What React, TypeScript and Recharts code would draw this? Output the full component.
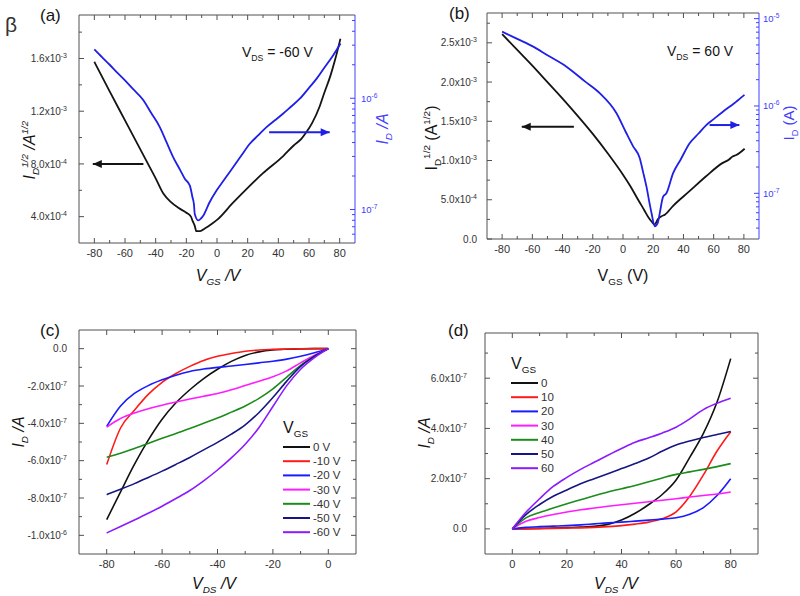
import React from 'react';
import { LineChart, Line, XAxis, YAxis } from 'recharts';

const FONT = '"Liberation Sans", Arial, Helvetica, sans-serif';
const INK = '#141414';
const FRAME = '#505050';
const LABEL = '#333333';
const BLUE = '#1f1fe6';
const BLUE_AXIS = '#4040ff';

// ---------- (a) transfer, VDS = -60 V ----------
const aVgsSqrt = [-80, -70, -60, -50, -45, -40, -35, -30, -25, -20, -17, -16, -14.5, -13.5, -11, -8, -4, 0, 10, 21, 30, 43, 50, 55, 58, 62, 67, 70, 74, 77, 80.5];
// sqrt(ID) in units of 1e-3 A^1/2
const aSqrtIdE3 = [1.575, 1.35, 1.13, 0.91, 0.8, 0.69, 0.575, 0.51, 0.465, 0.43, 0.4, 0.37, 0.33, 0.29, 0.29, 0.31, 0.34, 0.375, 0.5, 0.63, 0.73, 0.858, 0.94, 0.99, 1.036, 1.11, 1.238, 1.34, 1.47, 1.59, 1.75];
const aVgsLog = [-80, -75, -70, -65.6, -60, -55, -48, -43, -37.3, -33, -28.6, -24, -21, -17.7, -16, -15, -14.5, -12.3, -10.5, -9, -5, -0.3, 5, 10.5, 16, 21.4, 27, 32.3, 38, 43.2, 48, 54, 60, 65, 70, 75.8, 80.6];
const aIdLog = [2.75e-6, 2.34e-6, 2.0e-6, 1.73e-6, 1.45e-6, 1.22e-6, 9.6e-7, 7.4e-7, 5.5e-7, 4.05e-7, 2.96e-7, 2.26e-7, 1.89e-7, 1.64e-7, 1.29e-7, 1.1e-7, 9.1e-8, 8.0e-8, 8.3e-8, 8.8e-8, 1.15e-7, 1.48e-7, 1.88e-7, 2.4e-7, 3.07e-7, 3.9e-7, 4.66e-7, 5.5e-7, 6.37e-7, 7.3e-7, 8.35e-7, 9.9e-7, 1.24e-6, 1.5e-6, 1.88e-6, 2.44e-6, 3.11e-6];
const aArrowSqrtX = [-48, -81];
const aArrowSqrtY = 0.8;
const aArrowLogX = [34, 73.5];
const aArrowLogY = 4.95e-7;

// ---------- (b) transfer, VDS = 60 V ----------
const bVgsSqrt = [-80, -70, -60, -50, -40, -30, -20, -10, 0, 5, 10, 14, 17, 19, 21, 23, 25.5, 27.7, 33, 44, 55, 66, 70, 72.5, 75, 80.5];
const bSqrtIdE3 = [2.61, 2.41, 2.21, 2.0, 1.79, 1.57, 1.34, 1.09, 0.82, 0.67, 0.5, 0.37, 0.27, 0.22, 0.185, 0.25, 0.29, 0.31, 0.42, 0.61, 0.8, 0.97, 1.01, 1.05, 1.07, 1.15];
const bVgsLog = [-80, -70, -59.4, -50, -37.4, -25, -15.4, -4.3, 2, 6.7, 11, 13.3, 15.5, 17.7, 19, 21, 23, 24.3, 26.5, 28.7, 33.1, 38, 44.1, 50, 55.1, 60, 66.1, 70, 75, 77, 80.4];
const bIdLog = [7.1e-6, 5.86e-6, 4.78e-6, 3.81e-6, 2.82e-6, 1.9e-6, 1.4e-6, 8.25e-7, 4.97e-7, 3.45e-7, 2.55e-7, 1.75e-7, 1.2e-7, 7.5e-8, 5.8e-8, 4.2e-8, 4.6e-8, 5.9e-8, 9.1e-8, 1.0e-7, 1.69e-7, 2.41e-7, 3.74e-7, 4.84e-7, 6.05e-7, 7.08e-7, 8.6e-7, 9.66e-7, 1.12e-6, 1.2e-6, 1.34e-6];
const bArrowSqrtX = [-32.5, -67];
const bArrowSqrtY = 1.43;
const bArrowLogX = [57.3, 77];
const bArrowLogY = 6.05e-7;

// ---------- (c) output, negative VDS (ID in units of 1e-7 A) ----------
const cVds = [-80, -75, -70, -65, -60, -55, -50, -45, -40, -35, -30, -25, -20, -15, -10, -5, 0];
const cIdVg0 = [-9.16, -7.67, -6.2, -4.9, -3.78, -2.9, -2.2, -1.6, -1.1, -0.68, -0.36, -0.17, -0.07, -0.03, -0.01, 0, 0];
const cIdVgM10 = [-6.21, -4.25, -3.3, -2.45, -1.8, -1.33, -0.95, -0.63, -0.41, -0.26, -0.14, -0.07, -0.04, -0.02, -0.01, 0, 0];
const cIdVgM20 = [-4.16, -3.07, -2.4, -1.98, -1.67, -1.42, -1.22, -1.09, -1.0, -0.93, -0.85, -0.76, -0.67, -0.56, -0.41, -0.22, 0];
const cIdVgM30 = [-4.2, -3.74, -3.45, -3.22, -3.03, -2.86, -2.7, -2.55, -2.4, -2.2, -1.97, -1.74, -1.5, -1.19, -0.76, -0.35, 0];
const cIdVgM40 = [-5.82, -5.6, -5.35, -5.08, -4.8, -4.55, -4.28, -4.0, -3.72, -3.4, -3.07, -2.66, -2.15, -1.52, -0.9, -0.42, 0];
const cIdVgM50 = [-7.82, -7.53, -7.23, -6.9, -6.56, -6.2, -5.83, -5.42, -5.02, -4.58, -4.08, -3.42, -2.62, -1.74, -0.95, -0.4, 0];
const cIdVgM60 = [-9.87, -9.53, -9.18, -8.82, -8.44, -8.03, -7.6, -7.08, -6.5, -5.85, -5.12, -4.22, -3.1, -1.98, -1.1, -0.48, 0];
const cGateLabels = ['0 V', '-10 V', '-20 V', '-30 V', '-40 V', '-50 V', '-60 V'];

// ---------- (d) output, positive VDS (ID in units of 1e-7 A) ----------
const dVds = [0, 5, 10, 15, 20, 25, 30, 35, 40, 45, 50, 55, 60, 65, 70, 75, 80];
const dIdVg0 = [0, 0.01, 0.02, 0.03, 0.05, 0.07, 0.1, 0.18, 0.35, 0.62, 0.97, 1.38, 1.95, 2.85, 3.8, 5.05, 6.78];
const dIdVg10 = [0, 0, 0.01, 0.02, 0.03, 0.04, 0.06, 0.09, 0.13, 0.19, 0.27, 0.41, 0.68, 1.3, 2.15, 3.1, 3.87];
const dIdVg20 = [0, 0.06, 0.09, 0.11, 0.13, 0.16, 0.2, 0.24, 0.27, 0.31, 0.35, 0.39, 0.44, 0.58, 0.85, 1.33, 2.0];
const dIdVg30 = [0, 0.3, 0.45, 0.57, 0.67, 0.76, 0.83, 0.9, 0.96, 1.02, 1.08, 1.14, 1.2, 1.27, 1.33, 1.39, 1.47];
const dIdVg40 = [0, 0.44, 0.65, 0.83, 1.0, 1.16, 1.32, 1.47, 1.6, 1.73, 1.88, 2.03, 2.17, 2.27, 2.37, 2.48, 2.6];
const dIdVg50 = [0, 0.57, 0.97, 1.3, 1.55, 1.8, 2.0, 2.2, 2.4, 2.6, 2.82, 3.1, 3.34, 3.5, 3.64, 3.76, 3.88];
const dIdVg60 = [0, 0.66, 1.2, 1.69, 2.05, 2.37, 2.65, 2.93, 3.2, 3.45, 3.63, 3.82, 4.05, 4.38, 4.75, 5.0, 5.2];
const dGateLabels = ['0', '10', '20', '30', '40', '50', '60'];

// ---------- ticks ----------
const vgsTicks = [-80, -70, -60, -50, -40, -30, -20, -10, 0, 10, 20, 30, 40, 50, 60, 70, 80];
const vgsMajor = [-80, -60, -40, -20, 0, 20, 40, 60, 80];
const aLeftTicks = [0.4, 0.6, 0.8, 1.0, 1.2, 1.4, 1.6, 1.8];
const aLeftMajor = [0.4, 0.8, 1.2, 1.6];
const aRightTicks = [6e-8, 7e-8, 8e-8, 9e-8, 1e-7, 2e-7, 3e-7, 4e-7, 5e-7, 6e-7, 7e-7, 8e-7, 9e-7, 1e-6, 2e-6, 3e-6, 4e-6, 5e-6];
const aRightMajor = [1e-7, 1e-6];
const bLeftTicks = [0, 0.25, 0.5, 0.75, 1.0, 1.25, 1.5, 1.75, 2.0, 2.25, 2.5, 2.75];
const bLeftMajor = [0, 0.5, 1.0, 1.5, 2.0, 2.5];
const bRightTicks = [4e-8, 5e-8, 6e-8, 7e-8, 8e-8, 9e-8, 1e-7, 2e-7, 3e-7, 4e-7, 5e-7, 6e-7, 7e-7, 8e-7, 9e-7, 1e-6, 2e-6, 3e-6, 4e-6, 5e-6, 6e-6, 7e-6, 8e-6, 9e-6, 1e-5];
const bRightMajor = [1e-7, 1e-6, 1e-5];
const cXTicks = [-80, -70, -60, -50, -40, -30, -20, -10, 0];
const cXMajor = [-80, -60, -40, -20, 0];
const cYTicks = [-10, -9, -8, -7, -6, -5, -4, -3, -2, -1, 0];
const cYMajor = [-10, -8, -6, -4, -2, 0];
const dXTicks = [0, 10, 20, 30, 40, 50, 60, 70, 80];
const dXMajor = [0, 20, 40, 60, 80];
const dYTicks = [0, 1, 2, 3, 4, 5, 6, 7];
const dYMajor = [0, 2, 4, 6];

const GATE_COLORS = ['#111111', '#ff1a1a', '#1a1aff', '#ff1aff', '#1a8c1a', '#161683', '#8a1aff'];
const GATE_KEYS = ['g0', 'g1', 'g2', 'g3', 'g4', 'g5', 'g6'];

const pts = (xs: number[], ys: number[]) => xs.map((x, i) => ({ x, y: ys[i] }));
const rows = (xs: number[], series: number[][]) =>
  xs.map((x, i) => {
    const r: Record<string, number> = { x };
    series.forEach((s, k) => (r[GATE_KEYS[k]] = s[i]));
    return r;
  });

const same = (a: number, b: number) => a === b || Math.abs(a - b) <= 1e-6 * Math.max(Math.abs(a), Math.abs(b));

const sci = (v: number): React.ReactNode => {
  if (Math.abs(v) < 1e-30) return '0.0';
  const e = Math.floor(Math.log10(Math.abs(v)) + 1e-9);
  const m = (v / Math.pow(10, e)).toFixed(1);
  return [
    <tspan key="m">{m}x10</tspan>,
    <tspan key="e" dy={-4} fontSize="0.7em">{e}</tspan>,
  ];
};
const sciScaled = (k: number) => (v: number) => sci(v * k);
const pow10 = (v: number): React.ReactNode => [
  <tspan key="m">10</tspan>,
  <tspan key="e" dy={-4} fontSize="0.7em">{Math.round(Math.log10(v))}</tspan>,
];
const plain = (v: number): React.ReactNode => String(v);

type Side = 'bottom' | 'top' | 'left' | 'right';
function makeTick(
  side: Side,
  major: number[],
  o: { fmt?: (v: number) => React.ReactNode; gap?: number; size?: number; color?: string; line?: string } = {}
) {
  const { fmt, gap = 8, size = 10, color = LABEL, line = FRAME } = o;
  return (p: any) => {
    const x = p.x;
    const y = p.y;
    const v = p.payload.value;
    const big = major.some((m) => same(m, v));
    const L = big ? 5 : 3;
    let seg = [x, y, x, y];
    let label: React.ReactNode = null;
    const tp = { fill: color, fontSize: size, fontFamily: FONT };
    if (side === 'bottom') {
      seg = [x, y, x, y - L];
      if (big && fmt) label = <text x={x} y={y + gap} textAnchor="middle" {...tp}>{fmt(v)}</text>;
    } else if (side === 'top') {
      seg = [x, y, x, y + L];
    } else if (side === 'left') {
      seg = [x, y, x + L, y];
      if (big && fmt) label = <text x={x - gap} y={y + size * 0.36} textAnchor="end" {...tp}>{fmt(v)}</text>;
    } else {
      seg = [x, y, x - L, y];
      if (big && fmt) label = <text x={x + gap} y={y + size * 0.36} textAnchor="start" {...tp}>{fmt(v)}</text>;
    }
    return (
      <g>
        <line x1={seg[0]} y1={seg[1]} x2={seg[2]} y2={seg[3]} stroke={line} strokeWidth={1} />
        {label}
      </g>
    );
  };
}

// arrow head drawn as the dot of the second point
const arrowDot = (color: string, dir: number) => (p: any) => {
  const { cx, cy, index } = p;
  if (index !== 1 || cx == null) return <g key={`ad-${index}`} />;
  const b = cx - dir * 9;
  return <polygon key={`ad-${index}`} points={`${cx},${cy} ${b},${cy - 4} ${b},${cy + 4}`} fill={color} />;
};

type Part = { t: string; s?: 'sub' | 'sup'; i?: boolean };
function Rich({ x, y, parts, size, anchor = 'middle', rot = false, fill = INK }: { x: number; y: number; parts: Part[]; size: number; anchor?: 'start' | 'middle' | 'end'; rot?: boolean; fill?: string }) {
  let cur = 0;
  const spans = parts.map((p, k) => {
    const target = p.s === 'sub' ? size * 0.28 : p.s === 'sup' ? -size * 0.42 : 0;
    const dy = target - cur;
    cur = target;
    return (
      <tspan key={k} dy={dy} fontSize={p.s ? size * 0.62 : size} fontStyle={p.i ? 'italic' : 'normal'}>
        {p.t}
      </tspan>
    );
  });
  return (
    <text x={x} y={y} textAnchor={anchor} fill={fill} fontFamily={FONT} fontSize={size} style={{ whiteSpace: 'pre' }} transform={rot ? `rotate(-90 ${x} ${y})` : undefined}>
      {spans}
    </text>
  );
}

const axisCommon = { type: 'number' as const, allowDataOverflow: true, interval: 0 as const, tickSize: 0, tickMargin: 0, tickLine: false };

function TransferPanel(props: {
  left: number; top: number; m: { top: number; bottom: number; left: number; right: number };
  sqrt: { x: number; y: number }[]; log: { x: number; y: number }[];
  sqrtDomain: [number, number]; logDomain: [number, number];
  leftTicks: number[]; leftMajor: number[]; rightTicks: number[]; rightMajor: number[];
  leftGap: number; rightGap: number; arrowSqrt: { x: number; y: number }[]; arrowLog: { x: number; y: number }[];
}) {
  const p = props;
  const dirS = Math.sign(p.arrowSqrt[1].x - p.arrowSqrt[0].x);
  const dirL = Math.sign(p.arrowLog[1].x - p.arrowLog[0].x);
  return (
    <div style={{ position: 'absolute', left: p.left, top: p.top }}>
      <LineChart width={400} height={300} margin={{ top: p.m.top - 1, right: 0, bottom: 0, left: 0 }}>
        <XAxis xAxisId="b" dataKey="x" {...axisCommon} domain={[-90, 90]} ticks={vgsTicks} height={300 - p.m.bottom} axisLine={{ stroke: FRAME }} tick={makeTick('bottom', vgsMajor, { fmt: plain, gap: 14, size: 11 })} />
        <XAxis xAxisId="t" orientation="top" dataKey="x" {...axisCommon} domain={[-90, 90]} ticks={vgsTicks} height={1} axisLine={{ stroke: FRAME }} tick={makeTick('top', vgsMajor)} />
        <YAxis yAxisId="l" {...axisCommon} domain={p.sqrtDomain} ticks={p.leftTicks} width={p.m.left} axisLine={{ stroke: FRAME }} tick={makeTick('left', p.leftMajor, { fmt: sciScaled(1e-3), gap: p.leftGap, size: 10 })} />
        <YAxis yAxisId="r" orientation="right" {...axisCommon} scale="log" domain={p.logDomain} ticks={p.rightTicks} width={400 - p.m.right} axisLine={{ stroke: BLUE_AXIS }} tick={makeTick('right', p.rightMajor, { fmt: pow10, gap: p.rightGap, size: 9.5, color: BLUE_AXIS, line: BLUE_AXIS })} />
        <Line xAxisId="b" yAxisId="l" data={p.sqrt} dataKey="y" type="monotone" stroke={INK} strokeWidth={1.8} dot={false} isAnimationActive={false} />
        <Line xAxisId="b" yAxisId="r" data={p.log} dataKey="y" type="monotone" stroke={BLUE} strokeWidth={1.8} dot={false} isAnimationActive={false} />
        <Line xAxisId="b" yAxisId="l" data={p.arrowSqrt} dataKey="y" type="linear" stroke={INK} strokeWidth={2} dot={arrowDot(INK, dirS)} isAnimationActive={false} />
        <Line xAxisId="b" yAxisId="r" data={p.arrowLog} dataKey="y" type="linear" stroke={BLUE} strokeWidth={2} dot={arrowDot(BLUE, dirL)} isAnimationActive={false} />
      </LineChart>
    </div>
  );
}

function OutputPanel(props: {
  left: number; top: number; m: { top: number; bottom: number; left: number; right: number };
  data: Record<string, number>[]; xDomain: [number, number]; yDomain: [number, number];
  xTicks: number[]; xMajor: number[]; yTicks: number[]; yMajor: number[]; leftGap: number;
}) {
  const p = props;
  return (
    <div style={{ position: 'absolute', left: p.left, top: p.top }}>
      <LineChart width={400} height={296} data={p.data} margin={{ top: p.m.top - 1, right: 0, bottom: 0, left: 0 }}>
        <XAxis xAxisId="b" dataKey="x" {...axisCommon} domain={p.xDomain} ticks={p.xTicks} height={296 - p.m.bottom} axisLine={{ stroke: FRAME }} tick={makeTick('bottom', p.xMajor, { fmt: plain, gap: 14, size: 11 })} />
        <XAxis xAxisId="t" orientation="top" dataKey="x" {...axisCommon} domain={p.xDomain} ticks={p.xTicks} height={1} axisLine={{ stroke: FRAME }} tick={makeTick('top', p.xMajor)} />
        <YAxis yAxisId="l" {...axisCommon} domain={p.yDomain} ticks={p.yTicks} width={p.m.left} axisLine={{ stroke: FRAME }} tick={makeTick('left', p.yMajor, { fmt: sciScaled(1e-7), gap: p.leftGap, size: 10 })} />
        <YAxis yAxisId="r" orientation="right" {...axisCommon} domain={p.yDomain} ticks={p.yTicks} width={400 - p.m.right} axisLine={{ stroke: FRAME }} tick={makeTick('right', p.yMajor)} />
        {GATE_KEYS.map((k, i) => (
          <Line key={k} xAxisId="b" yAxisId="l" dataKey={k} type="monotone" stroke={GATE_COLORS[i]} strokeWidth={1.6} dot={false} isAnimationActive={false} />
        ))}
      </LineChart>
    </div>
  );
}

function LegendBlock({ x, y, labels }: { x: number; y: number; labels: string[] }) {
  return (
    <g>
      <Rich x={x} y={y} size={16} anchor="start" parts={[{ t: 'V' }, { t: 'GS', s: 'sub' }]} />
      {labels.map((lab, i) => {
        const ry = y + 14 + i * 14.2;
        return (
          <g key={lab}>
            <line x1={x} y1={ry} x2={x + 27} y2={ry} stroke={GATE_COLORS[i]} strokeWidth={2} />
            <text x={x + 30} y={ry + 4} fontSize={11.5} fill={LABEL} fontFamily={FONT}>{lab}</text>
          </g>
        );
      })}
    </g>
  );
}

export default function App() {
  const cData = rows(cVds, [cIdVg0, cIdVgM10, cIdVgM20, cIdVgM30, cIdVgM40, cIdVgM50, cIdVgM60]);
  const dData = rows(dVds, [dIdVg0, dIdVg10, dIdVg20, dIdVg30, dIdVg40, dIdVg50, dIdVg60]);
  return (
    <div style={{ position: 'absolute', left: 0, top: 0, width: 800, height: 596, background: '#fff', fontFamily: FONT }}>
      <TransferPanel
        left={0} top={0} m={{ top: 15, bottom: 243, left: 79, right: 355 }}
        sqrt={pts(aVgsSqrt, aSqrtIdE3)} log={pts(aVgsLog, aIdLog)}
        sqrtDomain={[0.2, 1.93]} logDomain={[5e-8, 5.6e-6]}
        leftTicks={aLeftTicks} leftMajor={aLeftMajor} rightTicks={aRightTicks} rightMajor={aRightMajor} leftGap={12} rightGap={6}
        arrowSqrt={pts(aArrowSqrtX, [aArrowSqrtY, aArrowSqrtY])} arrowLog={pts(aArrowLogX, [aArrowLogY, aArrowLogY])}
      />
      <TransferPanel
        left={400} top={0} m={{ top: 13, bottom: 239, left: 87, right: 359 }}
        sqrt={pts(bVgsSqrt, bSqrtIdE3)} log={pts(bVgsLog, bIdLog)}
        sqrtDomain={[0, 2.88]} logDomain={[3e-8, 1.16e-5]}
        leftTicks={bLeftTicks} leftMajor={bLeftMajor} rightTicks={bRightTicks} rightMajor={bRightMajor} leftGap={10} rightGap={4}
        arrowSqrt={pts(bArrowSqrtX, [bArrowSqrtY, bArrowSqrtY])} arrowLog={pts(bArrowLogX, [bArrowLogY, bArrowLogY])}
      />
      <OutputPanel
        left={0} top={300} m={{ top: 30, bottom: 254, left: 79, right: 356 }}
        data={cData} xDomain={[-90, 10]} yDomain={[-11, 1]}
        xTicks={cXTicks} xMajor={cXMajor} yTicks={cYTicks} yMajor={cYMajor} leftGap={12}
      />
      <OutputPanel
        left={400} top={300} m={{ top: 33, bottom: 254, left: 85, right: 358 }}
        data={dData} xDomain={[-10, 90]} yDomain={[-1, 7.8]}
        xTicks={dXTicks} xMajor={dXMajor} yTicks={dYTicks} yMajor={dYMajor} leftGap={18}
      />
      <svg width={800} height={596} style={{ position: 'absolute', left: 0, top: 0, pointerEvents: 'none' }}>
        <text x={5} y={32} fontSize={21} fill={LABEL} fontFamily={FONT}>β</text>
        <text x={40} y={21} fontSize={17} fill={INK} fontFamily={FONT}>(a)</text>
        <text x={449} y={19} fontSize={17} fill={INK} fontFamily={FONT}>(b)</text>
        <text x={40} y={336} fontSize={17} fill={INK} fontFamily={FONT}>(c)</text>
        <text x={448} y={336} fontSize={17} fill={INK} fontFamily={FONT}>(d)</text>

        <Rich x={242} y={57} size={14} anchor="start" parts={[{ t: 'V' }, { t: 'DS', s: 'sub' }, { t: ' = -60 V' }]} />
        <Rich x={667} y={56} size={14} anchor="start" parts={[{ t: 'V' }, { t: 'DS', s: 'sub' }, { t: ' = 60 V' }]} />

        <Rich x={35} y={150} size={16} rot parts={[{ t: 'I', i: true }, { t: 'D', s: 'sub', i: true }, { t: '1/2', s: 'sup', i: true }, { t: ' /A', i: true }, { t: '1/2', s: 'sup', i: true }]} />
        <Rich x={388} y={129} size={16} rot fill={BLUE_AXIS} parts={[{ t: 'I', i: true }, { t: 'D', s: 'sub', i: true }, { t: ' /A', i: true }]} />
        <Rich x={218} y={281} size={16} parts={[{ t: 'V', i: true }, { t: 'GS', s: 'sub', i: true }, { t: ' /V', i: true }]} />

        <Rich x={437} y={138} size={16} rot parts={[{ t: 'I' }, { t: 'D', s: 'sub' }, { t: '1/2', s: 'sup' }, { t: ' (A' }, { t: '1/2', s: 'sup' }, { t: ')' }]} />
        <Rich x={794} y={123} size={15} rot fill={BLUE_AXIS} parts={[{ t: 'I' }, { t: 'D', s: 'sub' }, { t: ' (A)' }]} />
        <Rich x={623} y={281} size={16} parts={[{ t: 'V' }, { t: 'GS', s: 'sub' }, { t: ' (V)' }]} />

        <Rich x={24} y={432} size={16} rot parts={[{ t: 'I', i: true }, { t: 'D', s: 'sub', i: true }, { t: ' /A', i: true }]} />
        <Rich x={214} y={589} size={16} parts={[{ t: 'V', i: true }, { t: 'DS', s: 'sub', i: true }, { t: ' /V', i: true }]} />
        <Rich x={430} y={433} size={16} rot parts={[{ t: 'I', i: true }, { t: 'D', s: 'sub', i: true }, { t: ' /A', i: true }]} />
        <Rich x={616} y={589} size={16} parts={[{ t: 'V', i: true }, { t: 'DS', s: 'sub', i: true }, { t: ' /V', i: true }]} />

        <LegendBlock x={283} y={433} labels={cGateLabels} />
        <LegendBlock x={511} y={369} labels={dGateLabels} />
      </svg>
    </div>
  );
}
